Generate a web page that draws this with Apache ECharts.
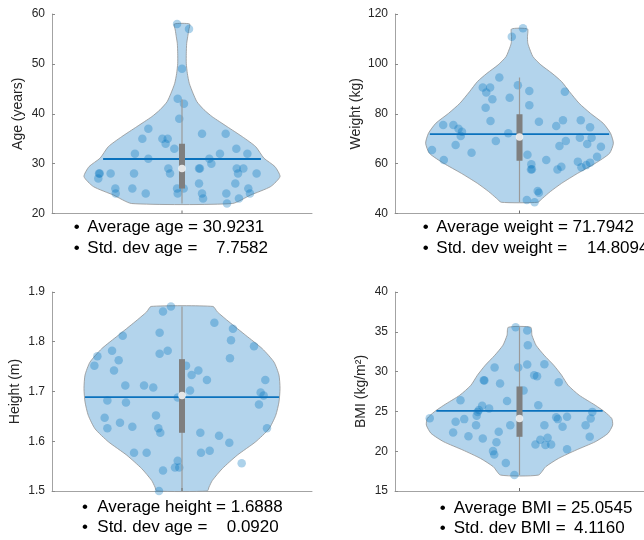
<!DOCTYPE html>
<html><head><meta charset="utf-8">
<script src="https://cdn.jsdelivr.net/npm/echarts@6/dist/echarts.min.js"></script>
<style>html,body{margin:0;padding:0;background:#fff}#c{width:644px;height:540px}</style>
</head><body><div id="c"></div>
<script>
// ---------- Data ----------
const yNames = ['Age (years)', 'Weight (kg)', 'Height (m)', 'BMI (kg/m\u00B2)'];
const yMins = [20, 40, 1.5, 15];
const yMaxs = [60, 120, 1.9, 40];
const yIntervals = [10, 20, 0.1, 5];

// scatter: jitter (x) and values (y)
const ageX = [-0.038,0.054,0,-0.033,0.015,-0.021,-0.259,-0.305,-0.151,-0.110,-0.126,0.154,0.336,-0.059,0.418,-0.362,0.292,0.503,-0.259,0.210,0.226,-0.105,0.131,0.138,0.421,0.472,-0.638,-0.549,-0.369,-0.092,0.431,0.574,-0.644,0.131,0.410,-0.513,-0.382,-0.038,0.013,0.510,-0.510,-0.279,-0.033,0.154,0.341,0.523,0.162,0.438,0.346,-0.633];
const ageY = [58,57,49,43,42,39,37,35,35,35,34,36,36,33,33,32,32,32,31,31,30,29,29,29,29,29,28,28,28,28,28,28,27,26,26,25,25,25,25,25,24,24,24,24,24,24,23,23,22,28];

const weightX = [0.028,-0.062,-0.162,-0.295,-0.236,-0.267,-0.013,0.079,0.364,-0.218,-0.079,-0.272,0.079,-0.233,0.156,-0.613,-0.531,0.349,0.492,0.295,0.567,-0.490,-0.462,-0.472,-0.090,0.485,0.579,-0.190,-0.513,-0.703,-0.385,0.321,0.372,0.544,0.654,0.064,0.215,-0.608,0.095,0.100,0.092,0.469,0.567,0.623,0.497,0.536,0.305,0.336,0.146,0.156,0.059,0.121];
const weightY = [114.3,110.9,94.5,90.5,90.5,88.5,91.4,89.1,88.8,85.8,86.4,82.4,83.4,77.1,76.8,75.5,75.5,77.4,77.4,75.1,74.6,74.0,72.8,71.1,72.2,70.4,70.4,69.1,67.5,65.5,64.4,67.1,69.1,67.9,66.8,63.6,61.5,61.5,59.7,57.7,57.6,60.8,60.4,62.8,58.5,59.4,57.6,58.7,49.0,48.3,45.4,44.5];

const heightX = [-0.085,-0.146,0.249,0.392,-0.456,-0.172,0.377,0.554,-0.538,-0.110,-0.172,-0.651,0.369,-0.487,-0.674,0.031,-0.523,0.126,0.074,0.192,0.641,-0.436,-0.292,-0.221,0.062,0.605,0.628,-0.033,-0.574,-0.431,0.592,-0.200,-0.595,-0.477,-0.382,-0.574,-0.182,-0.167,0.654,0.141,0.285,0.364,-0.369,-0.272,0.146,0.213,0.459,-0.033,-0.054,-0.021,-0.146,-0.177];
const heightY = [1.871,1.861,1.838,1.826,1.812,1.818,1.803,1.791,1.782,1.782,1.776,1.771,1.767,1.763,1.752,1.752,1.742,1.742,1.733,1.723,1.723,1.712,1.712,1.708,1.702,1.698,1.692,1.688,1.682,1.678,1.674,1.652,1.647,1.637,1.629,1.626,1.626,1.617,1.626,1.617,1.611,1.597,1.577,1.577,1.577,1.581,1.556,1.561,1.547,1.547,1.541,1.500];

const bmiX = [-0.031,0.062,0.067,-0.200,-0.010,0.062,0.200,0.118,0.141,-0.287,-0.282,-0.156,0.315,0.033,-0.474,-0.100,0.151,-0.300,-0.244,-0.326,-0.336,-0.344,0.585,-0.721,0.382,0.295,0.308,0.572,-0.444,-0.513,-0.349,-0.074,0.200,0.346,0.531,-0.533,-0.167,-0.410,-0.295,0.564,0.226,0.167,-0.185,0.128,0.208,0.254,0.382,-0.213,-0.203,-0.110,-0.041];
const bmiY = [35.57,35.15,33.31,30.51,30.51,30.89,30.93,29.55,29.42,28.92,28.88,28.50,28.67,27.63,26.41,26.32,25.78,25.70,25.37,25.19,24.94,24.44,24.94,24.15,24.32,24.28,24.03,24.11,24.03,23.69,23.27,23.27,23.27,23.06,23.27,22.36,22.44,21.89,21.61,21.81,21.68,21.43,21.11,20.85,20.77,20.85,20.26,20.01,19.60,18.51,17.0];

// violin outlines: value levels (top -> bottom) and half widths
const ageOutlineY = [58,56.8,55.46,54.1,52.1,50.1,48.1,46.1,44.1,42.4,40.8,39.4,37.4,35.4,33.4,31.1,29.4,27.4,25.4,23.7,22];
const ageOutlineW = [0.059,0.052,0.044,0.036,0.033,0.033,0.041,0.056,0.085,0.115,0.169,0.233,0.348,0.464,0.567,0.63,0.715,0.754,0.682,0.528,0.387];
const weightOutlineY = [114,110.9,108.5,106.9,102.9,99.6,96.2,92.9,88.8,84.2,80.2,76.2,72.2,68.2,64.1,60.1,56.1,52.1,48.8,46.1,44.5];
const weightOutlineW = [0.064,0.064,0.066,0.075,0.108,0.172,0.262,0.338,0.402,0.479,0.569,0.672,0.731,0.754,0.723,0.608,0.467,0.338,0.248,0.185,0.146];
const heightOutlineY = [1.871,1.860,1.840,1.813,1.786,1.759,1.733,1.706,1.679,1.652,1.625,1.599,1.572,1.545,1.521,1.508,1.5];
const heightOutlineW = [0.238,0.272,0.362,0.490,0.618,0.708,0.746,0.754,0.746,0.721,0.669,0.567,0.425,0.310,0.233,0.208,0.195];
const bmiOutlineY = [35.57,34.57,33.31,32.06,30.80,29.55,28.29,27.04,25.78,24.94,24.11,23.27,22.23,21.18,20.14,19.09,18.04,17.0];
const bmiOutlineW = [0.090,0.100,0.133,0.198,0.275,0.338,0.390,0.479,0.608,0.685,0.741,0.748,0.710,0.608,0.454,0.313,0.210,0.152];

// box stats: [whisker low, q1, median, q3, whisker high]
const ageBox = [22, 25, 29, 34, 42.9];
const weightBox = [44.5, 61.2, 70.7, 79.8, 94.5];
const heightBox = [1.5, 1.617, 1.692, 1.765, 1.871];
const bmiBox = [17.0, 21.81, 24.11, 28.13, 35.57];

const means = [30.9231, 71.7942, 1.6888, 25.0545];
const meanHalfWidths = [0.607, 0.72, 0.746, 0.668];

const avgLines = ['Average age = 30.9231', 'Average weight = 71.7942', 'Average height = 1.6888', 'Average BMI = 25.0545'];
const stdLabels = ['Std. dev age =', 'Std. dev weight =', 'Std. dev age =', 'Std. dev BMI ='];
const stdValues = ['7.7582', '14.8094', '0.0920', '4.1160'];

// ---------- Layout / styles ----------
const FONT = 'Liberation Sans, Arial, Helvetica, sans-serif';
const grids = [
  {left: 52, top: 14, width: 260, height: 199.5},
  {left: 395, top: 14, width: 261, height: 199.5},
  {left: 52, top: 292, width: 260, height: 199},
  {left: 395, top: 292, width: 261, height: 199}
];
const nameGaps = [27, 32, 30, 27];
const textPos = [
  {bx: 76.7, tx: 87.3, vx: 216, y1: 227, y2: 248.5},
  {bx: 425.8, tx: 436.3, vx: 587, y1: 227.5, y2: 248},
  {bx: 85, tx: 97.3, vx: 226.7, y1: 507, y2: 527.5},
  {bx: 442.8, tx: 453.7, vx: 574, y1: 508, y2: 528}
];

const xs = [ageX, weightX, heightX, bmiX];
const ys = [ageY, weightY, heightY, bmiY];
const outY = [ageOutlineY, weightOutlineY, heightOutlineY, bmiOutlineY];
const outW = [ageOutlineW, weightOutlineW, heightOutlineW, bmiOutlineW];
const boxes = [ageBox, weightBox, heightBox, bmiBox];

const xAxes = [], yAxes = [], series = [], graphic = [];
for (let i = 0; i < 4; i++) {
  xAxes.push({
    gridIndex: i, type: 'value', min: -1, max: 1, interval: 1,
    axisLine: {show: true, onZero: false, lineStyle: {color: '#a3a3a3', width: 1}},
    axisTick: {show: false},
    axisLabel: {show: false}, splitLine: {show: false}
  });
  yAxes.push({
    gridIndex: i, type: 'value', min: yMins[i], max: yMaxs[i], interval: yIntervals[i],
    name: yNames[i], nameLocation: 'middle', nameGap: nameGaps[i],
    nameTextStyle: {fontFamily: FONT, fontSize: 14, color: '#262626'},
    axisLine: {show: true, onZero: false, lineStyle: {color: '#a3a3a3', width: 1}},
    axisTick: {show: true, inside: true, length: 3, lineStyle: {color: '#8a8a8a'}},
    axisLabel: {fontFamily: FONT, fontSize: 12, color: '#262626', margin: 7},
    splitLine: {show: false}
  });
  const vy = outY[i], vw = outW[i];
  // violin body
  series.push({
    type: 'custom', xAxisIndex: i, yAxisIndex: i, data: [[0, vy[0]]], silent: true, z: 1,
    renderItem: function (params, api) {
      const pts = [];
      for (let k = 0; k < vy.length; k++) pts.push(api.coord([-vw[k], vy[k]]));
      for (let k = vy.length - 1; k >= 0; k--) pts.push(api.coord([vw[k], vy[k]]));
      return {type: 'polygon', shape: {points: pts, smooth: 0.2},
        style: {fill: '#b3d4ec', stroke: '#929292', lineWidth: 0.8}};
    }
  });
  // centre tick on the x axis
  series.push({
    type: 'custom', xAxisIndex: i, yAxisIndex: i, data: [[0, yMins[i]]], silent: true, z: 7,
    renderItem: function (params, api) {
      const p = api.coord([0, yMins[i]]);
      return {type: 'line', shape: {x1: p[0], y1: p[1], x2: p[0], y2: p[1] - 3},
        style: {stroke: '#6e6e6e', lineWidth: 1}};
    }
  });
  // scatter points
  series.push({
    type: 'scatter', xAxisIndex: i, yAxisIndex: i, silent: true, z: 2,
    data: xs[i].map((x, k) => [x, ys[i][k]]),
    symbolSize: 8.5, itemStyle: {color: 'rgba(0,114,189,0.4)'}
  });
  // mean line
  series.push({
    type: 'line', xAxisIndex: i, yAxisIndex: i, silent: true, z: 3, symbol: 'none',
    data: [[-meanHalfWidths[i], means[i]], [meanHalfWidths[i], means[i]]],
    lineStyle: {color: '#0b72bd', width: 1.8}
  });
  const b = boxes[i];
  // whisker
  series.push({
    type: 'line', xAxisIndex: i, yAxisIndex: i, silent: true, z: 4, symbol: 'none',
    data: [[0, b[0]], [0, b[4]]],
    lineStyle: {color: '#9a9a9a', width: 1.2}
  });
  // box
  series.push({
    type: 'line', xAxisIndex: i, yAxisIndex: i, silent: true, z: 5, symbol: 'none',
    data: [[0, b[1]], [0, b[3]]],
    lineStyle: {color: '#7f7f7f', width: 6, cap: 'butt'}
  });
  // median
  series.push({
    type: 'scatter', xAxisIndex: i, yAxisIndex: i, silent: true, z: 6,
    data: [[0, b[2]]], symbolSize: 7.5, itemStyle: {color: '#ffffff'}
  });
  // annotations
  const p = textPos[i];
  const ts = (t, x, y, align) => ({type: 'text', x: x, y: y, silent: true,
    style: {text: t, fontFamily: FONT, fontSize: 17, fill: '#000', textAlign: align || 'left', textVerticalAlign: 'middle'}});
  graphic.push(ts('\u2022', p.bx, p.y1, 'center'));
  graphic.push(ts(avgLines[i], p.tx, p.y1));
  graphic.push(ts('\u2022', p.bx, p.y2, 'center'));
  graphic.push(ts(stdLabels[i], p.tx, p.y2));
  graphic.push(ts(stdValues[i], p.vx, p.y2));
}

const chart = echarts.init(document.getElementById('c'), null, {renderer: 'canvas'});
chart.setOption({
  animation: false,
  backgroundColor: '#ffffff',
  grid: grids,
  xAxis: xAxes,
  yAxis: yAxes,
  series: series,
  graphic: graphic
});
</script>
</body></html>
